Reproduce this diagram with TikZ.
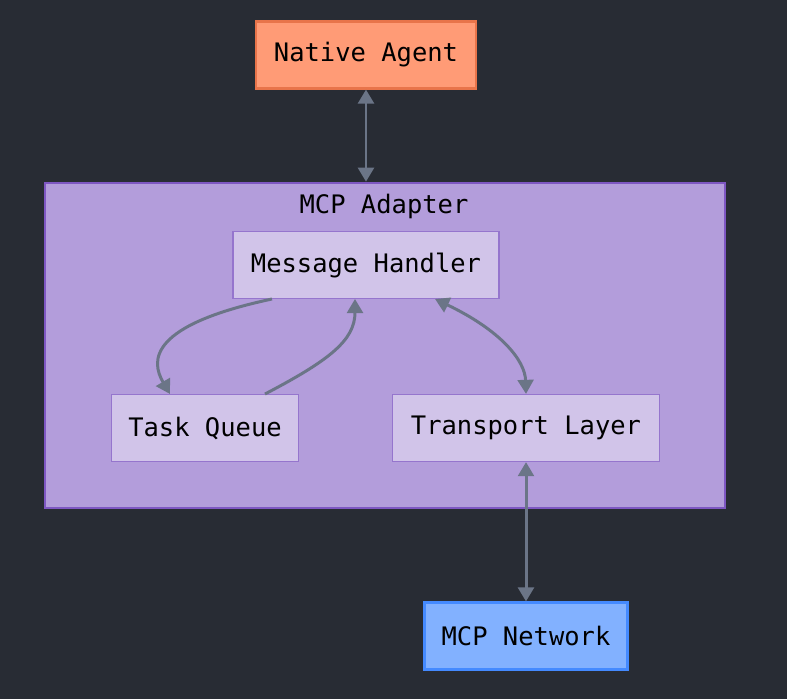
\documentclass[tikz,border=0pt]{standalone}
\usepackage{fontspec}
\setmonofont{DejaVu Sans Mono}
\usetikzlibrary{arrows.meta}
\definecolor{bgcol}{HTML}{282C34}
\definecolor{agentfill}{HTML}{FF9B76}
\definecolor{agentdraw}{HTML}{E8744A}
\definecolor{clusterfill}{HTML}{B39DDB}
\definecolor{clusterdraw}{HTML}{7E57C2}
\definecolor{innerfill}{HTML}{D1C4E9}
\definecolor{innerdraw}{HTML}{9575CD}
\definecolor{netfill}{HTML}{82B1FF}
\definecolor{netdraw}{HTML}{448AFF}
\definecolor{edgecol}{HTML}{6B7587}
\tikzset{>=Triangle}
\begin{document}
\begin{tikzpicture}[x=0.02cm,y=-0.02cm,
		box/.style = {draw, line width=1.2pt, font=\ttfamily\fontsize{14.5}{16}\selectfont,
			minimum height=1.34cm, inner sep=0pt},
		inner/.style = {box, fill=innerfill, draw=innerdraw, line width=0.7pt},
		link/.style = {edgecol, line width=1.7pt, {Triangle[length=8pt,width=9pt]}-{Triangle[length=8pt,width=9pt]}},
		oneway/.style = {edgecol, line width=1.7pt, -{Triangle[length=8pt,width=9pt]}},
		]
		\fill[bgcol] (0,0) rectangle (787,699);
		\useasboundingbox (0,0) rectangle (787,699);
		% cluster
		\node[draw=clusterdraw, fill=clusterfill, line width=1.5pt, minimum width=13.6cm,
			minimum height=6.5cm] (adapter) at (385,345.5) {};
		\node[font=\ttfamily\fontsize{14.5}{16}\selectfont] (title) at (384,206) {MCP Adapter};
		% nodes
		\node[box, fill=agentfill, draw=agentdraw, minimum width=4.4cm] (agent) at (366,55) {Native Agent};
		\node[inner, minimum width=5.32cm] (handler) at (366,265) {Message Handler};
		\node[inner, minimum width=3.74cm] (queue) at (205,428) {Task Queue};
		\node[inner, minimum width=5.34cm] (transport) at (526,428) {Transport Layer};
		\node[box, fill=netfill, draw=netdraw, minimum width=4.06cm] (network) at (526,636) {MCP Network};
		% connector ends
		\coordinate (h1) at (272,299);
		\coordinate (h2) at (355,299);
		\coordinate (h3) at (435,299);
		\coordinate (q1) at (170,394);
		\coordinate (q2) at (265,394);
		% connectors
		\draw[link] (agent) -- (agent |- adapter.north);
		\draw[oneway] (h1) .. controls (150,325) and (150,360) .. (q1);
		\draw[oneway] (q2) .. controls (330,360) and (355,340) .. (h2);
		\draw[link] (h3) .. controls (500,330) and (525,360) .. (transport.north);
		\draw[link] (transport) -- (network);
	\end{tikzpicture}
\end{document}
